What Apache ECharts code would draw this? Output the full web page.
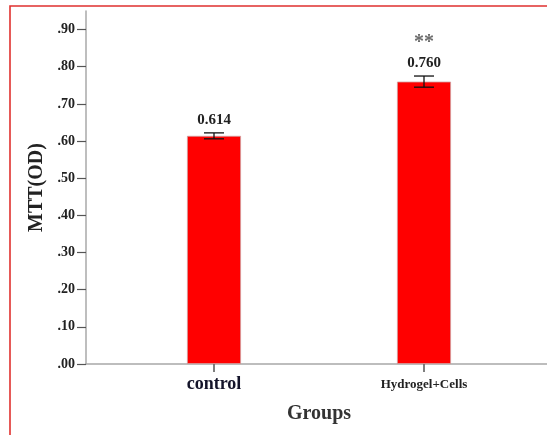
<!DOCTYPE html>
<html>
<head>
<meta charset="utf-8">
<script src="https://cdn.jsdelivr.net/npm/echarts@6/dist/echarts.min.js"></script>
<style>
  html, body { margin: 0; padding: 0; background: #fff; }
  #chart { width: 547px; height: 435px; }
</style>
</head>
<body>
<div id="chart"></div>
<script>
// Groups on the x axis
const categories = ['control', 'Hydrogel+Cells'];
// Mean MTT optical density per group
const means = [0.614, 0.760];
// Half-length of each error bar
const errors = [0.008, 0.015];
// Significance marks above each bar
const marks = ['', '**'];
// Y-axis tick values
const yTicks = [0, 0.1, 0.2, 0.3, 0.4, 0.5, 0.6, 0.7, 0.8, 0.9];

const SERIF = '"Liberation Serif", "DejaVu Serif", serif';
const Y_MAX = 0.95;

const chart = echarts.init(document.getElementById('chart'));

chart.setOption({
  animation: false,
  backgroundColor: '#ffffff',
  graphic: [{
    type: 'rect',
    shape: { x: 10, y: 6, width: 600, height: 500 },
    style: { fill: 'none', stroke: '#e0312f', lineWidth: 1.6 },
    silent: true
  }],
  grid: [
    // frame: full-width axis lines and the value scale
    { left: 86, right: 0, top: 11, bottom: 71 },
    // bars: category bands
    { left: 109, right: 18, top: 11, bottom: 71 }
  ],
  xAxis: [
    {
      gridIndex: 0, type: 'value', min: 0, max: 1,
      axisLine: { show: true, lineStyle: { color: '#a8a8a8', width: 1.5 } },
      axisTick: { show: false }, axisLabel: { show: false }, splitLine: { show: false }
    },
    {
      gridIndex: 1, type: 'category', data: categories,
      axisLine: { show: false },
      axisTick: { show: true, alignWithLabel: true, length: 8, lineStyle: { color: '#555', width: 1.5 } },
      axisLabel: {
        margin: 10,
        fontFamily: SERIF,
        fontWeight: 'bold',
        color: '#111',
        formatter: function (v, i) { return i === 0 ? '{a|' + v + '}' : '{b|' + v + '}'; },
        rich: {
          a: { fontFamily: SERIF, fontWeight: 'bold', fontSize: 18, color: '#14142a', padding: [1, 0, 0, 0] },
          b: { fontFamily: SERIF, fontWeight: 'bold', fontSize: 13, color: '#222', padding: [4, 0, 0, 0] }
        }
      },
      name: 'Groups',
      nameLocation: 'middle',
      nameGap: 40,
      nameTextStyle: { fontFamily: SERIF, fontWeight: 'bold', fontSize: 20, color: '#333' }
    }
  ],
  yAxis: [
    {
      gridIndex: 0, type: 'value', min: 0, max: Y_MAX,
      axisLine: { show: true, lineStyle: { color: '#a8a8a8', width: 1.5 } },
      axisTick: { show: true, length: 9, customValues: yTicks, lineStyle: { color: '#555', width: 1.2 } },
      axisLabel: {
        customValues: yTicks,
        margin: 11,
        fontFamily: SERIF, fontWeight: 'bold', fontSize: 14, color: '#222',
        formatter: function (v) { return v.toFixed(2).replace(/^0/, ''); }
      },
      splitLine: { show: false },
      name: 'MTT(OD)',
      nameLocation: 'middle',
      nameGap: 36,
      nameTextStyle: { fontFamily: SERIF, fontWeight: 'bold', fontSize: 20, color: '#222' }
    },
    {
      gridIndex: 1, type: 'value', min: 0, max: Y_MAX, show: false
    }
  ],
  series: [
    {
      type: 'bar',
      xAxisIndex: 1, yAxisIndex: 1,
      data: means,
      barWidth: 54,
      itemStyle: { color: '#ff0000', borderColor: '#d0a0a0', borderWidth: 0.8 }
    },
    {
      type: 'custom',
      xAxisIndex: 1, yAxisIndex: 1,
      data: categories.map(function (c, i) { return [i, means[i], errors[i]]; }),
      z: 5,
      renderItem: function (params, api) {
        const i = api.value(0), m = api.value(1), e = api.value(2);
        const hi = api.coord([i, m + e]);
        const lo = api.coord([i, m - e]);
        const x = hi[0];
        const cap = 10;
        const lineStyle = { stroke: '#111', lineWidth: 1.3 };
        const children = [
          { type: 'line', shape: { x1: x, y1: hi[1], x2: x, y2: lo[1] }, style: lineStyle },
          { type: 'line', shape: { x1: x - cap, y1: hi[1], x2: x + cap, y2: hi[1] }, style: lineStyle },
          { type: 'line', shape: { x1: x - cap, y1: lo[1], x2: x + cap, y2: lo[1] }, style: lineStyle },
          {
            type: 'text',
            style: {
              x: x, y: hi[1] - 5,
              text: means[params.dataIndex].toFixed(3),
              align: 'center', verticalAlign: 'bottom',
              font: 'bold 15px ' + SERIF, fill: '#222'
            }
          }
        ];
        const mk = marks[params.dataIndex];
        if (mk) {
          children.push({
            type: 'text',
            style: {
              x: x, y: hi[1] - 23,
              text: mk,
              align: 'center', verticalAlign: 'bottom',
              font: 'bold 20px ' + SERIF, fill: '#6a6a6a'
            }
          });
        }
        return { type: 'group', children: children };
      }
    }
  ]
});
</script>
</body>
</html>
